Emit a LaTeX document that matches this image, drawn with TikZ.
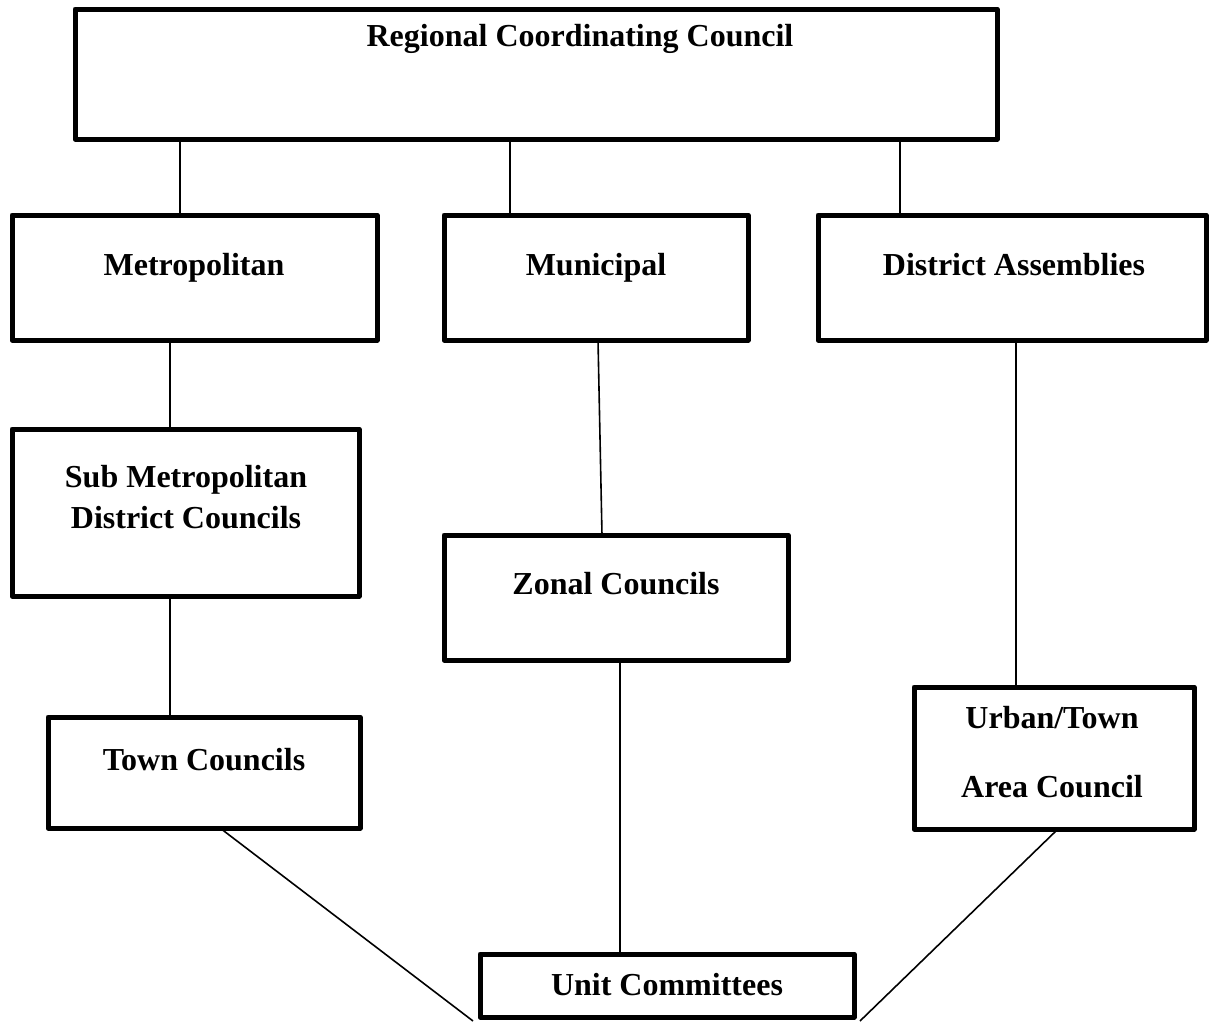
\documentclass[tikz,border=0pt]{standalone}
\usepackage{fontspec}
\setmainfont{Liberation Serif}
\begin{document}
\begin{tikzpicture}[x=1pt,y=-1pt,
  orgbox/.style={draw, line width=5pt, rectangle, inner sep=0pt, outer sep=0pt, line join=round},
  lbl/.style={anchor=base, inner sep=0pt, font=\fontsize{32}{38}\selectfont\bfseries},
  conn/.style={line width=1.6pt}]
\useasboundingbox (0,0) rectangle (1211,1021);
% boxes
\node[orgbox, minimum width=922pt, minimum height=130pt] (rcc) at (536,74) {};
\node[orgbox, minimum width=365pt, minimum height=125pt] (metro) at (194.5,277.5) {};
\node[orgbox, minimum width=304pt, minimum height=125pt] (muni) at (596,277.5) {};
\node[orgbox, minimum width=388pt, minimum height=125pt] (dist) at (1012,277.5) {};
\node[orgbox, minimum width=347pt, minimum height=167pt] (submetro) at (185.5,512.5) {};
\node[orgbox, minimum width=344pt, minimum height=125pt] (zonal) at (616,597.5) {};
\node[orgbox, minimum width=312pt, minimum height=111pt] (town) at (204,772.5) {};
\node[orgbox, minimum width=280pt, minimum height=142pt] (urban) at (1054,758) {};
\node[orgbox, minimum width=374pt, minimum height=63pt] (unit) at (667,985.5) {};
% labels
\node[lbl] (trcc) at (580,46) {Regional Coordinating Council};
\node[lbl] (tmetro) at (194,275) {Metropolitan};
\node[lbl] (tmuni) at (596,275) {Municipal};
\node[lbl] (tdist) at (1014,275) {District Assemblies};
\node[lbl] (tsub1) at (186,487) {Sub Metropolitan};
\node[lbl] (tsub2) at (186,528) {District Councils};
\node[lbl] (tzonal) at (616,594) {Zonal Councils};
\node[lbl] (ttown) at (204,770) {Town Councils};
\node[lbl] (turb1) at (1052,728) {Urban/Town};
\node[lbl] (turb2) at (1052,797) {Area Council};
\node[lbl] (tunit) at (667,995) {Unit Committees};
% free ends
\coordinate (endL) at (473,1021);
\coordinate (endR) at (860,1021);
% connectors
\draw[conn] ([xshift=-356pt]rcc.south) -- ([xshift=-14.5pt]metro.north);
\draw[conn] ([xshift=-26pt]rcc.south) -- ([xshift=-86pt]muni.north);
\draw[conn] ([xshift=364pt]rcc.south) -- ([xshift=-112pt]dist.north);
\draw[conn] ([xshift=-24.5pt]metro.south) -- ([xshift=-15.5pt]submetro.north);
\draw[conn] ([xshift=2pt]muni.south) -- ([xshift=-14pt]zonal.north);
\draw[conn] ([xshift=-15.5pt]submetro.south) -- ([xshift=-34pt]town.north);
\draw[conn] ([xshift=4pt]dist.south) -- ([xshift=-38pt]urban.north);
\draw[conn] ([xshift=4pt]zonal.south) -- ([xshift=-47pt]unit.north);
\draw[conn] ([xshift=16pt]town.south) -- (endL);
\draw[conn] ([xshift=4pt]urban.south) -- (endR);
\end{tikzpicture}
\end{document}
